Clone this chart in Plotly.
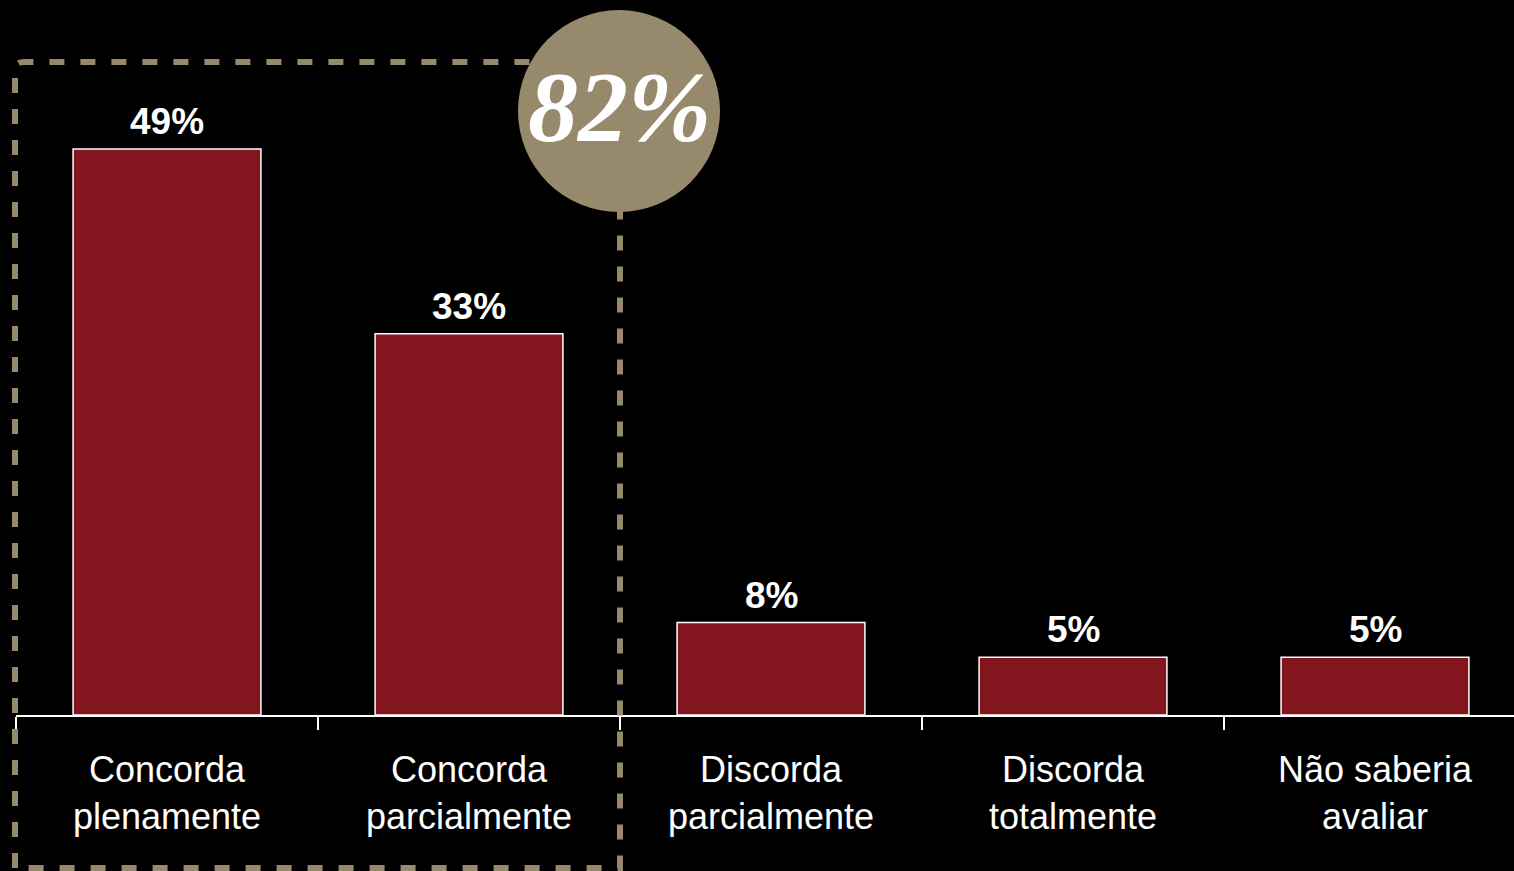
import plotly.graph_objects as go

categories = ["Concorda<br>plenamente", "Concorda<br>parcialmente", "Discorda<br>parcialmente",
              "Discorda<br>totalmente", "Não saberia<br>avaliar"]
values = [49, 33, 8, 5, 5]
value_labels = ["49%", "33%", "8%", "5%", "5%"]
highlight_label = "82%"

BAR = "#83151F"
TAN = "#978A6C"
FONT = "Arial, Liberation Sans, sans-serif"

W, H = 1514, 871
ML, MB = 16, 156
PW, PH = W - ML, H - MB


def px_x(p):
    return (p - ML) / PW


def px_y(p):
    return (PH - p) / PH


fig = go.Figure()
fig.add_trace(go.Bar(
    x=categories, y=values,
    marker=dict(color=BAR, line=dict(color="white", width=1.5)),
    width=0.622,
    cliponaxis=False,
))
for c, v, t in zip(categories, values, value_labels):
    fig.add_annotation(x=c, y=v, text=f"<b>{t}</b>", showarrow=False,
                       xanchor="center", yanchor="bottom", yshift=5,
                       font=dict(family=FONT, size=37, color="white"))

# dashed highlight box around the "Concorda" categories
x0, x1 = px_x(15), px_x(620)
y0, y1 = px_y(868), px_y(62)
fig.add_shape(type="path", xref="paper", yref="paper",
              path=f"M {x0} {y0} L {x0} {y1 - 0.012} Q {x0} {y1} {x0 + 0.006} {y1} L {x1} {y1} L {x1} {y0} Z",
              line=dict(color=TAN, width=6, dash="15px,16px"), layer="above")
# circle
fig.add_shape(type="circle", xref="paper", yref="paper",
              x0=px_x(518), x1=px_x(720), y0=px_y(212), y1=px_y(10),
              fillcolor=TAN, line=dict(width=0), layer="above")
fig.add_annotation(x=px_x(619), xref="paper", y=px_y(107), yref="paper",
                   xanchor="center", yanchor="middle",
                   text=f"<b><i>{highlight_label}</i></b>", showarrow=False,
                   font=dict(family="Liberation Serif, DejaVu Serif, serif", size=100, color="white"))

fig.update_xaxes(
    type="category",
    range=[-0.5, -0.5 + PW / 302], showgrid=False, zeroline=False,
    showline=True, linecolor="white", linewidth=2,
    ticks="outside", tickson="boundaries", ticklen=13, tickwidth=2, tickcolor="white",
    tickfont=dict(family=FONT, size=36, color="white"),
    ticklabelstandoff=22,
)
fig.update_yaxes(range=[0, PH / 11.55], visible=False)
fig.update_layout(
    width=W, height=H,
    margin=dict(l=ML, r=0, t=0, b=MB),
    paper_bgcolor="black", plot_bgcolor="black",
    showlegend=False,
)
fig.write_html("out.html", config={"displayModeBar": False},
               post_script="document.body.style.margin='0';document.body.style.background='black';")
